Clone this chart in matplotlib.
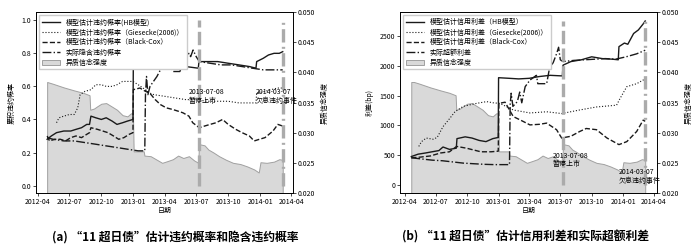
import numpy as np
import pandas as pd
import matplotlib
matplotlib.use('Agg')
import matplotlib.pyplot as plt
import matplotlib.dates as mdates
from matplotlib.ticker import FormatStrFormatter

plt.rcParams['font.family'] = ['Noto Sans CJK SC', 'DejaVu Sans']
plt.rcParams['font.size'] = 5
plt.rcParams['axes.unicode_minus'] = False

# 异质信念强度 (same series in both panels)
belief_dates = ['2012-04-20', '2012-04-28', '2012-05-15', '2012-06-15', '2012-07-15', '2012-08-10',
                '2012-08-28', '2012-08-30', '2012-09-10', '2012-09-20', '2012-10-01', '2012-10-15',
                '2012-11-01', '2012-11-15', '2012-12-01', '2012-12-15', '2012-12-25', '2012-12-31',
                '2013-01-02', '2013-01-31', '2013-02-02', '2013-02-20', '2013-03-10', '2013-03-25',
                '2013-04-10', '2013-04-25', '2013-05-10', '2013-05-25', '2013-06-10', '2013-06-25',
                '2013-07-07', '2013-07-09', '2013-07-25', '2013-08-05', '2013-08-20', '2013-09-05',
                '2013-09-25', '2013-10-15', '2013-11-05', '2013-11-25', '2013-12-15', '2013-12-28',
                '2014-01-02', '2014-01-20', '2014-02-10', '2014-02-25', '2014-03-07']
belief_vals = [0.0384, 0.0384, 0.0381, 0.0375, 0.0370, 0.0366,
               0.0362, 0.0338, 0.0340, 0.0344, 0.0348, 0.0349,
               0.0343, 0.0338, 0.0329, 0.0327, 0.0332, 0.0332,
               0.0269, 0.0269, 0.0262, 0.0261, 0.0255, 0.0250,
               0.0253, 0.0256, 0.0262, 0.0258, 0.0261, 0.0254,
               0.0250, 0.0281, 0.0279, 0.0272, 0.0267, 0.0261,
               0.0255, 0.0250, 0.0248, 0.0244, 0.0239, 0.0234,
               0.0251, 0.0250, 0.0252, 0.0256, 0.0255]
# stray light line in panel (a)
extra_dates = ['2013-01-01', '2013-02-15', '2013-04-01', '2013-05-20']
extra_vals = [0.0418, 0.0415, 0.0411, 0.0408]

# ---- panel (a): default probabilities ----
a_hb_dates = ['2012-04-28', '2012-05-10', '2012-05-25', '2012-06-15', '2012-07-05', '2012-07-20',
              '2012-08-05', '2012-08-20', '2012-08-28', '2012-09-01', '2012-09-15', '2012-10-01',
              '2012-10-15', '2012-11-01', '2012-11-15', '2012-12-01', '2012-12-15', '2012-12-31',
              '2013-01-01', '2013-02-01', '2013-03-01', '2013-04-01', '2013-05-01', '2013-06-01',
              '2013-07-07', '2013-07-09', '2013-08-01', '2013-09-01', '2013-10-01', '2013-11-01',
              '2013-12-01', '2013-12-20', '2013-12-22', '2014-01-10', '2014-01-25', '2014-02-10',
              '2014-02-25', '2014-03-07']
a_hb = [0.28, 0.30, 0.32, 0.33, 0.33, 0.34,
        0.35, 0.37, 0.37, 0.42, 0.41, 0.40,
        0.41, 0.39, 0.37, 0.38, 0.39, 0.40,
        0.72, 0.72, 0.71, 0.72, 0.71, 0.72,
        0.71, 0.75, 0.75, 0.75, 0.74, 0.73,
        0.72, 0.71, 0.75, 0.77, 0.79, 0.80,
        0.80, 0.81]

a_gs_dates = ['2012-05-25', '2012-06-01', '2012-06-15', '2012-07-01', '2012-07-15', '2012-07-25',
              '2012-08-01', '2012-08-15', '2012-09-01', '2012-09-15', '2012-10-01', '2012-10-15',
              '2012-11-01', '2012-11-15', '2012-12-01', '2012-12-31', '2013-01-15', '2013-02-05',
              '2013-02-17', '2013-03-01', '2013-04-01', '2013-05-01', '2013-06-01', '2013-07-01',
              '2013-08-01', '2013-09-01', '2013-10-01', '2013-11-01', '2013-12-01', '2013-12-20',
              '2013-12-22', '2014-01-15', '2014-02-01', '2014-02-20', '2014-03-07']
a_gs = [0.38, 0.41, 0.42, 0.43, 0.43, 0.47,
        0.55, 0.57, 0.58, 0.61, 0.61, 0.60,
        0.60, 0.61, 0.63, 0.63, 0.61, 0.58,
        0.56, 0.55, 0.54, 0.53, 0.52, 0.52,
        0.51, 0.51, 0.51, 0.50, 0.50, 0.50,
        0.56, 0.57, 0.58, 0.59, 0.59]

a_bc_dates = ['2012-04-28', '2012-05-05', '2012-05-20', '2012-06-05', '2012-06-20', '2012-07-05',
              '2012-07-20', '2012-08-05', '2012-08-20', '2012-08-28', '2012-09-01', '2012-09-20',
              '2012-10-05', '2012-10-20', '2012-11-05', '2012-11-20', '2012-12-05', '2012-12-20',
              '2012-12-31', '2013-01-01', '2013-01-20', '2013-02-05', '2013-02-17', '2013-03-05',
              '2013-03-20', '2013-04-06', '2013-04-25', '2013-05-10', '2013-05-24', '2013-06-10',
              '2013-06-21', '2013-07-10', '2013-07-25', '2013-08-10', '2013-08-27', '2013-09-15',
              '2013-10-01', '2013-10-23', '2013-11-10', '2013-12-01', '2013-12-15', '2013-12-30',
              '2014-01-15', '2014-02-07', '2014-02-21', '2014-03-07']
a_bc = [0.30, 0.27, 0.28, 0.28, 0.27, 0.29,
        0.30, 0.29, 0.31, 0.32, 0.35, 0.34,
        0.33, 0.32, 0.30, 0.28, 0.29, 0.31,
        0.32, 0.58, 0.59, 0.57, 0.56, 0.52,
        0.49, 0.47, 0.46, 0.45, 0.44, 0.42,
        0.38, 0.35, 0.36, 0.37, 0.38, 0.40,
        0.37, 0.34, 0.32, 0.30, 0.27, 0.28,
        0.29, 0.33, 0.37, 0.36]

a_imp_dates = ['2012-04-28', '2012-05-15', '2012-06-15', '2012-07-15', '2012-08-15', '2012-09-15',
               '2012-10-15', '2012-11-15', '2012-12-15', '2013-01-15', '2013-02-03', '2013-02-05',
               '2013-02-08', '2013-02-12', '2013-02-18', '2013-02-28', '2013-03-10', '2013-03-20',
               '2013-04-05', '2013-04-20', '2013-04-25', '2013-05-15', '2013-05-20', '2013-06-01',
               '2013-06-10', '2013-06-15', '2013-06-22', '2013-07-01', '2013-07-10', '2013-08-10',
               '2013-09-10', '2013-10-10', '2013-11-10', '2013-12-10', '2014-01-10', '2014-02-10',
               '2014-03-07']
a_imp = [0.29, 0.28, 0.27, 0.27, 0.26, 0.25,
         0.24, 0.23, 0.22, 0.21, 0.21, 0.55,
         0.66, 0.55, 0.60, 0.63, 0.66, 0.70,
         0.72, 0.71, 0.69, 0.69, 0.72, 0.76,
         0.80, 0.78, 0.82, 0.78, 0.75, 0.74,
         0.73, 0.73, 0.72, 0.71, 0.70, 0.70,
         0.70]

# ---- panel (b): credit spreads (bp) ----
b_hb_dates = ['2012-04-20', '2012-05-10', '2012-06-01', '2012-06-20', '2012-07-10', '2012-07-22',
              '2012-08-10', '2012-08-30', '2012-09-01', '2012-09-25', '2012-10-15', '2012-11-05',
              '2012-11-25', '2012-12-15', '2012-12-31', '2013-01-01', '2013-02-01', '2013-03-01',
              '2013-04-01', '2013-05-01', '2013-06-01', '2013-07-07', '2013-07-09', '2013-08-01',
              '2013-09-01', '2013-10-01', '2013-11-01', '2013-12-01', '2013-12-18', '2013-12-20',
              '2014-01-05', '2014-01-15', '2014-02-01', '2014-02-15', '2014-03-01', '2014-03-07']
b_hb = [480, 520, 540, 560, 580, 640,
        600, 620, 780, 810, 790, 750,
        730, 780, 800, 1800, 1790, 1780,
        1790, 1820, 1840, 1830, 2010, 2070,
        2100, 2150, 2120, 2110, 2100, 2320,
        2380, 2360, 2540, 2600, 2700, 2750]

b_gs_dates = ['2012-05-12', '2012-05-20', '2012-06-03', '2012-06-23', '2012-07-05', '2012-07-22',
              '2012-08-11', '2012-08-26', '2012-09-19', '2012-10-28', '2012-11-27', '2012-12-16',
              '2013-01-05', '2013-02-13', '2013-04-03', '2013-05-22', '2013-07-05', '2013-08-27',
              '2013-10-15', '2013-12-13', '2013-12-23', '2014-01-12', '2014-02-10', '2014-03-07']
b_gs = [650, 730, 790, 770, 800, 980,
        1120, 1230, 1320, 1370, 1400, 1380,
        1370, 1260, 1210, 1230, 1200, 1260,
        1310, 1340, 1450, 1650, 1700, 1780]

b_bc_dates = ['2012-04-20', '2012-05-15', '2012-06-15', '2012-07-15', '2012-08-10', '2012-08-31',
              '2012-09-29', '2012-10-20', '2012-11-10', '2012-12-10', '2012-12-31', '2013-01-02',
              '2013-01-20', '2013-02-13', '2013-03-10', '2013-04-03', '2013-05-01', '2013-05-22',
              '2013-06-20', '2013-07-05', '2013-08-01', '2013-08-27', '2013-09-15', '2013-10-15',
              '2013-11-15', '2013-12-20', '2014-01-12', '2014-02-10', '2014-03-01', '2014-03-07']
b_bc = [460, 470, 490, 540, 560, 650,
        620, 590, 560, 560, 570, 1370,
        1390, 1150, 1080, 1010, 1020, 1040,
        930, 790, 820, 900, 950, 930,
        790, 680, 730, 900, 1090, 1070]

b_imp_dates = ['2012-04-20', '2012-05-20', '2012-06-20', '2012-07-20', '2012-08-20', '2012-09-20',
               '2012-10-20', '2012-11-20', '2012-12-20', '2013-01-20', '2013-02-02', '2013-02-04',
               '2013-02-07', '2013-02-12', '2013-02-25', '2013-03-04', '2013-03-10', '2013-03-20',
               '2013-04-03', '2013-04-22', '2013-04-26', '2013-05-22', '2013-05-31', '2013-06-10',
               '2013-06-20', '2013-06-26', '2013-07-01', '2013-07-09', '2013-08-10', '2013-09-10',
               '2013-10-10', '2013-11-10', '2013-12-10', '2014-01-10', '2014-02-10', '2014-03-07']
b_imp = [460, 440, 420, 410, 390, 370,
         360, 350, 345, 345, 345, 1350,
         1540, 1320, 1400, 1560, 1380, 1650,
         1760, 1840, 1700, 1700, 1980, 2050,
         2200, 2310, 2100, 2070, 2090, 2100,
         2110, 2120, 2110, 2150, 2200, 2260]

event_dates = ['2013-07-08', '2014-03-07']
event_labels = ['2013-07-08\n暂停上市', '2014-03-07\n欠息违约事件']

a_labels = ['模型估计违约概率(HB模型)', '模型估计违约概率（Giesecke(2006)）',
            '模型估计违约概率（Black-Cox）', '实际隐含违约概率', '异质信念强度']
b_labels = ['模型估计信用利差（HB模型）', '模型估计信用利差（Giesecke(2006)）',
            '模型估计信用利差（Black-Cox）', '实际超额利差', '异质信念强度']

D = pd.to_datetime
belief = pd.Series(belief_vals, index=D(belief_dates))


def draw_panel(rect, series, labels, start, ylabel, yticks, ylim, vtop, xlim, text_pos):
    ax = fig.add_axes(rect)
    ax2 = ax.twinx()
    b = belief[belief.index >= start]
    fill = ax2.fill_between(b.index, 0.02, b.values, facecolor='#d9d9d9', edgecolor='#a0a0a0',
                            linewidth=0.7, label=labels[4])
    ax2.set_ylim(0.020, 0.050)
    ax2.yaxis.set_major_formatter(FormatStrFormatter('%.3f'))
    ax2.set_ylabel('异质信念强度')
    ax.set_zorder(ax2.get_zorder() + 1)
    ax.patch.set_visible(False)

    styles = [dict(ls='-', lw=1.0), dict(ls=':', lw=0.8), dict(ls='--', lw=1.0), dict(ls='-.', lw=1.0)]
    handles = []
    for (d, v), st, lab in zip(series, styles, labels[:4]):
        h, = ax.plot(D(d), v, color='#1a1a1a', label=lab, **st)
        handles.append(h)

    ax.vlines(D(event_dates[0]), 0, vtop, color='#ababab', lw=2.4, linestyles=(0, (4, 1.3)))
    ax.vlines(D(event_dates[1]), 0, vtop, color='#ababab', lw=2.4, linestyles=(0, (4, 1.3, 0.6, 1.3)))
    for (tx, ty), lab in zip(text_pos, event_labels):
        ax.text(D(tx), ty, lab, ha='left', va='bottom', linespacing=1.1)

    ax.set_ylim(*ylim)
    ax.set_yticks(yticks)
    ax.set_ylabel(ylabel)
    ax.set_xlabel('日期', labelpad=1)
    ax.set_xlim(D(xlim[0]), D(xlim[1]))
    ax.xaxis.set_major_locator(mdates.MonthLocator(bymonth=[1, 4, 7, 10]))
    ax.xaxis.set_major_formatter(mdates.DateFormatter('%Y-%m'))
    for a in (ax, ax2):
        a.tick_params(length=2, width=0.5, pad=1.5, labelsize=5)
        for s in a.spines.values():
            s.set_linewidth(0.6)
    ax.legend(handles + [fill], labels, loc='upper left', fontsize=5, labelspacing=0.3,
              handlelength=2.6, borderaxespad=0.5, framealpha=1, edgecolor='#cccccc',
              fancybox=False)
    return ax, ax2


fig = plt.figure(figsize=(6.94, 2.49), dpi=100)

axa, axa2 = draw_panel([0.0519, 0.2249, 0.370, 0.7269],
                       [(a_hb_dates, a_hb), (a_gs_dates, a_gs), (a_bc_dates, a_bc), (a_imp_dates, a_imp)],
                       a_labels, D('2012-04-28'), '累积违约概率', np.arange(0, 1.01, 0.2),
                       (-0.045, 1.05), 1.0, ('2012-03-27', '2014-04-05'),
                       [('2013-06-10', 0.49), ('2013-12-20', 0.49)])
axa2.plot(D(extra_dates), extra_vals, color='#cfcfcf', lw=0.8)
axa.yaxis.set_major_formatter(FormatStrFormatter('%.1f'))

axb, axb2 = draw_panel([0.5764, 0.2249, 0.370, 0.7269],
                       [(b_hb_dates, b_hb), (b_gs_dates, b_gs), (b_bc_dates, b_bc), (b_imp_dates, b_imp)],
                       b_labels, D('2012-04-20'), '利差(bp)', np.arange(0, 2501, 500),
                       (-130, 2900), max(b_hb), ('2012-03-18', '2014-04-10'),
                       [('2013-06-08', 285), ('2013-12-18', 10)])

fig.text(0.252, 0.048, '(a) “11 超日债”估计违约概率和隐含违约概率', ha='center', va='center',
         fontsize=8.5, fontweight='bold')
fig.text(0.757, 0.048, '(b) “11 超日债”估计信用利差和实际超额利差', ha='center', va='center',
         fontsize=8.5, fontweight='bold')

fig.savefig('out.png', dpi=100)
